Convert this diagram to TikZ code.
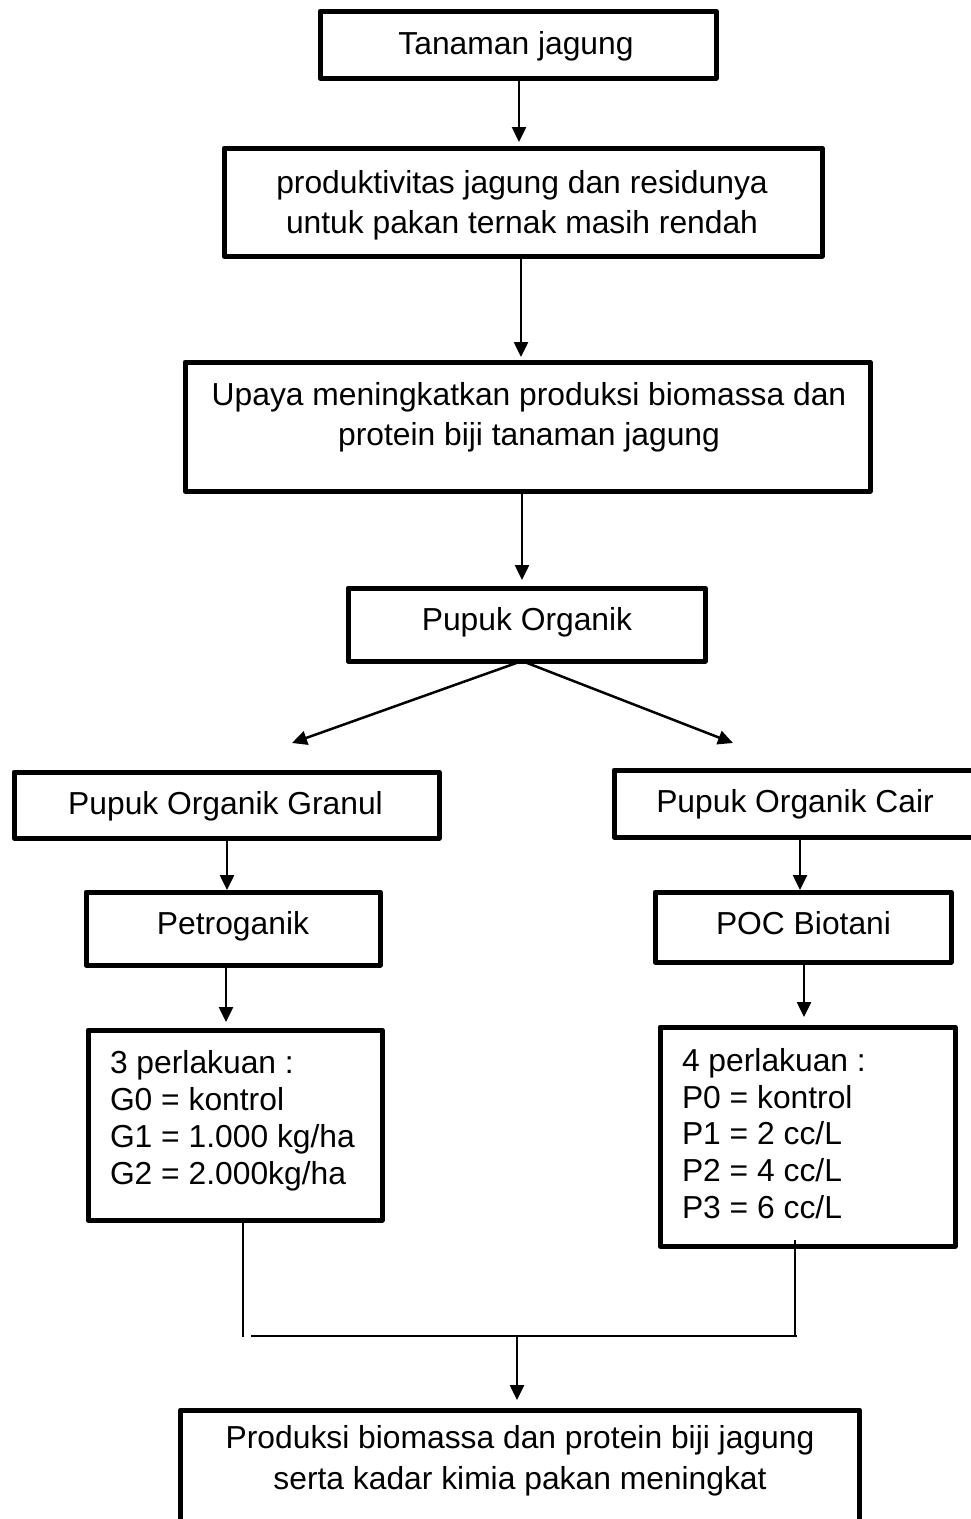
\documentclass[tikz,border=0pt]{standalone}
\usepackage{fontspec}
\setmainfont{Liberation Sans}
\usetikzlibrary{arrows.meta}
\begin{document}
\begin{tikzpicture}[x=1pt,y=-1pt,
  box/.style={draw, line width=5pt, line join=round, inner sep=0pt, outer sep=0pt},
  txt/.style={font=\fontsize{31.8}{37}\selectfont, inner sep=0pt, outer sep=0pt},
  arr/.style={line width=2.5pt, -{Triangle[width=14pt,length=15pt]}},
  link/.style={line width=1.6pt}]
\useasboundingbox (0,0) rectangle (971,1519);
\clip (0,0) rectangle (971,1519);
\fill[white] (0,0) rectangle (971,1519);

% boxes
\node[box, minimum width=396pt, minimum height=67pt]  (b1)  at (518,44.5) {};
\node[box, minimum width=598pt, minimum height=108pt] (b2)  at (523,202) {};
\node[box, minimum width=685pt, minimum height=129pt] (b3)  at (527.5,426.5) {};
\node[box, minimum width=357pt, minimum height=73pt]  (b4)  at (526.5,624.5) {};
\node[box, minimum width=425pt, minimum height=66pt]  (b5)  at (226.5,805) {};
\node[box, minimum width=376pt, minimum height=67pt]  (b6)  at (802,803.5) {};
\node[box, minimum width=294pt, minimum height=73pt]  (b7)  at (233,928.5) {};
\node[box, minimum width=296pt, minimum height=70pt]  (b8)  at (803,927) {};
\node[box, minimum width=294pt, minimum height=190pt] (b9)  at (235,1125) {};
\node[box, minimum width=295pt, minimum height=219pt] (b10) at (807.5,1136.5) {};
\node[box, minimum width=679pt, minimum height=160pt] (b11) at (520,1490) {};

% texts
\node[txt, anchor=base] (t1)  at (516,54) {Tanaman jagung};
\node[txt, anchor=base] (t2a) at (522,193) {produktivitas jagung dan residunya};
\node[txt, anchor=base] (t2b) at (522,233) {untuk pakan ternak masih rendah};
\node[txt, anchor=base] (t3a) at (529,405) {Upaya meningkatkan produksi biomassa dan};
\node[txt, anchor=base] (t3b) at (529,445) {protein biji tanaman jagung};
\node[txt, anchor=base] (t4)  at (527,630) {Pupuk Organik};
\node[txt, anchor=base] (t5)  at (225.5,814) {Pupuk Organik Granul};
\node[txt, anchor=base] (t6)  at (795,812) {Pupuk Organik Cair};
\node[txt, anchor=base] (t7)  at (233,934) {Petroganik};
\node[txt, anchor=base] (t8)  at (803.5,934) {POC Biotani};
\node[txt, anchor=base west] (g0) at (110,1073) {3 perlakuan :};
\node[txt, anchor=base west] (g1) at (110,1110) {G0 = kontrol};
\node[txt, anchor=base west] (g2) at (110,1147) {G1 = 1.000 kg/ha};
\node[txt, anchor=base west] (g3) at (110,1184) {G2 = 2.000kg/ha};
\node[txt, anchor=base west] (p0) at (682,1071) {4 perlakuan :};
\node[txt, anchor=base west] (p1) at (682,1108) {P0 = kontrol};
\node[txt, anchor=base west] (p2) at (682,1144) {P1 = 2 cc/L};
\node[txt, anchor=base west] (p3) at (682,1181) {P2 = 4 cc/L};
\node[txt, anchor=base west] (p4) at (682,1218) {P3 = 6 cc/L};
\node[txt, anchor=base] (t11a) at (520,1448) {Produksi biomassa dan protein biji jagung};
\node[txt, anchor=base] (t11b) at (520,1489) {serta kadar kimia pakan meningkat};

% connector columns
\coordinate (x1) at (519,0);
\coordinate (x2) at (521,0);
\coordinate (x3) at (522,0);
\coordinate (x5) at (227,0);
\coordinate (x6) at (800,0);
\coordinate (x7) at (226,0);
\coordinate (x8) at (804,0);
\coordinate (dl) at (292,743);
\coordinate (dr) at (733,743);

\draw[arr, shorten >=6pt] (b1.south -| x1) -- (b2.north -| x1);
\draw[arr, shorten >=5pt] (b2.south -| x2) -- (b3.north -| x2);
\draw[arr, shorten >=8pt] (b3.south -| x3) -- (b4.north -| x3);
\draw[arr] (b4.south -| x3) -- (dl);
\draw[arr] (b4.south -| x3) -- (dr);
\draw[arr, shorten >=2pt] (b5.south -| x5) -- (b7.north -| x5);
\draw[arr, shorten >=2pt] (b6.south -| x6) -- (b8.north -| x6);
\draw[arr, shorten >=8pt] (b7.south -| x7) -- (b9.north -| x7);
\draw[arr, shorten >=10pt] (b8.south -| x8) -- (b10.north -| x8);

% junction
\coordinate (jl) at (243,1337);
\coordinate (hl) at (251,1336);
\coordinate (jr) at (795,1337);
\coordinate (hr) at (797,1336);
\coordinate (jrt) at (795,1240);
\coordinate (jm) at (517,1336);
\draw[link] (b9.south -| jl) -- (jl);
\draw[link] (jrt) -- (jr);
\draw[link] (hl) -- (hr);
\draw[arr, shorten >=10pt] (jm) -- (b11.north -| jm);
\end{tikzpicture}
\end{document}
